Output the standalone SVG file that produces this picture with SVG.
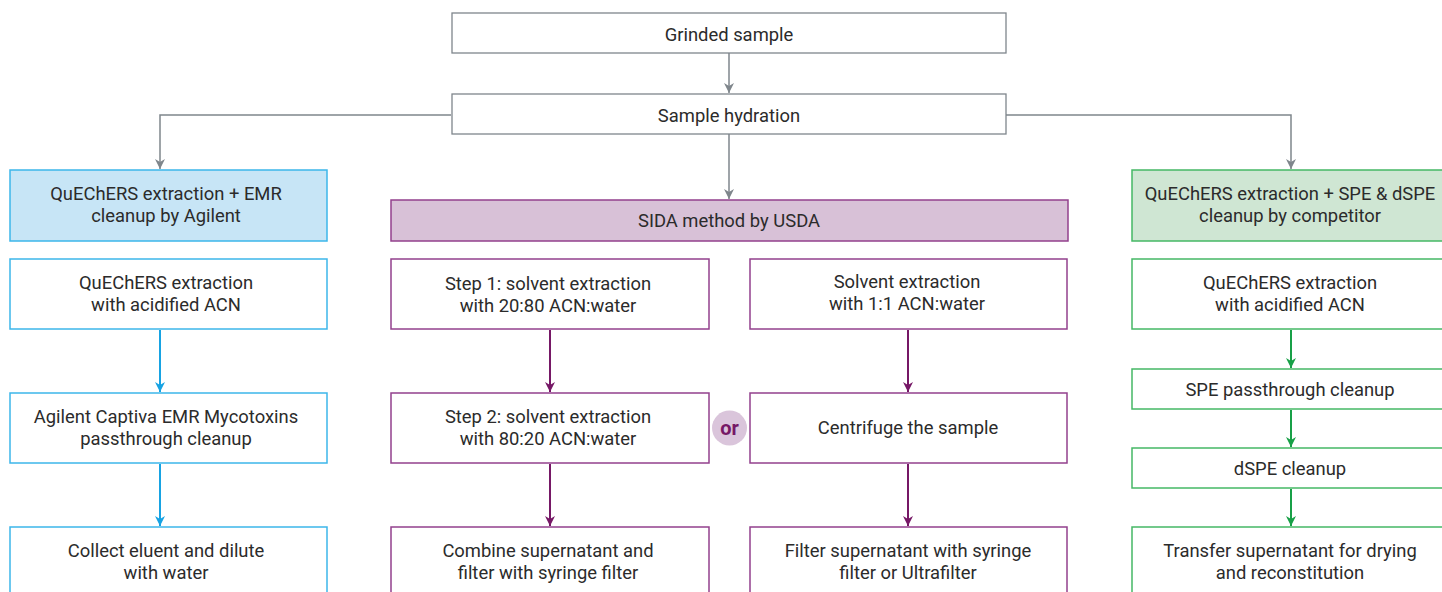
<svg xmlns="http://www.w3.org/2000/svg" width="1442" height="592" viewBox="0 0 1442 592">
<defs>
<style>
text{font-family:Roboto,"Liberation Sans",sans-serif;font-size:18.4px;fill:#2b2b2b;text-anchor:middle}
.g{fill:#fff;stroke:#7f868c;stroke-width:1.3}
.b{fill:#fff;stroke:#3cb6ea;stroke-width:1.5}
.bh{fill:#c7e5f6;stroke:#3cb6ea;stroke-width:1.5}
.p{fill:#fff;stroke:#93408d;stroke-width:1.5}
.ph{fill:#d8c1d7;stroke:#93408d;stroke-width:1.5}
.n{fill:#fff;stroke:#45b865;stroke-width:1.5}
.nh{fill:#cfe6d3;stroke:#45b865;stroke-width:1.5}
.cg{fill:none;stroke:#7f868c;stroke-width:1.5}
.cb{fill:none;stroke:#17a3e3;stroke-width:2}
.cp{fill:none;stroke:#761866;stroke-width:2}
.cn{fill:none;stroke:#18a047;stroke-width:2}
</style>
<marker id="ag" viewBox="0 0 10 10" refX="10" refY="5" markerWidth="10" markerHeight="10" markerUnits="userSpaceOnUse" orient="auto"><path d="M0,0 L10,5 L0,10 L3,5 Z" fill="#7f868c"/></marker>
<marker id="ab" viewBox="0 0 10 10" refX="10" refY="5" markerWidth="10" markerHeight="10" markerUnits="userSpaceOnUse" orient="auto"><path d="M0,0 L10,5 L0,10 L3,5 Z" fill="#17a3e3"/></marker>
<marker id="ap" viewBox="0 0 10 10" refX="10" refY="5" markerWidth="10" markerHeight="10" markerUnits="userSpaceOnUse" orient="auto"><path d="M0,0 L10,5 L0,10 L3,5 Z" fill="#761866"/></marker>
<marker id="an" viewBox="0 0 10 10" refX="10" refY="5" markerWidth="10" markerHeight="10" markerUnits="userSpaceOnUse" orient="auto"><path d="M0,0 L10,5 L0,10 L3,5 Z" fill="#18a047"/></marker>
</defs>
<rect width="1442" height="592" fill="#fff"/>
<g id="connectors">
<path class="cg" d="M729,53 V93" marker-end="url(#ag)"/>
<path class="cg" d="M451,115 H160 V169" marker-end="url(#ag)"/>
<path class="cg" d="M1006,115 H1291 V169" marker-end="url(#ag)"/>
<path class="cg" d="M729,134 V199" marker-end="url(#ag)"/>
<path class="cb" d="M160,330 V392" marker-end="url(#ab)"/>
<path class="cb" d="M160,464 V526" marker-end="url(#ab)"/>
<path class="cp" d="M550,330 V392" marker-end="url(#ap)"/>
<path class="cp" d="M550,464 V526" marker-end="url(#ap)"/>
<path class="cp" d="M908,330 V392" marker-end="url(#ap)"/>
<path class="cp" d="M908,464 V526" marker-end="url(#ap)"/>
<path class="cn" d="M1291,330 V368" marker-end="url(#an)"/>
<path class="cn" d="M1291,410 V447" marker-end="url(#an)"/>
<path class="cn" d="M1291,489 V526" marker-end="url(#an)"/>
</g>
<g id="grinded"><rect class="g" x="452" y="13" width="554" height="40"/><text x="729" y="40.5">Grinded sample</text></g>
<g id="hydration"><rect class="g" x="452" y="94" width="554" height="40"/><text x="729" y="121.5">Sample hydration</text></g>

<g id="agilent-head"><rect class="bh" x="10" y="170" width="317" height="71"/><text x="166" y="200">QuEChERS extraction + EMR</text><text x="166" y="222">cleanup by Agilent</text></g>
<g id="agilent-1"><rect class="b" x="10" y="259" width="317" height="70"/><text x="166" y="289">QuEChERS extraction</text><text x="166" y="311">with acidified ACN</text></g>
<g id="agilent-2"><rect class="b" x="10" y="393" width="317" height="70"/><text x="166" y="423">Agilent Captiva EMR Mycotoxins</text><text x="166" y="445">passthrough cleanup</text></g>
<g id="agilent-3"><rect class="b" x="10" y="527" width="317" height="80"/><text x="166" y="557">Collect eluent and dilute</text><text x="166" y="579">with water</text></g>

<g id="sida-head"><rect class="ph" x="391" y="200" width="677" height="41"/><text x="729" y="227">SIDA method by USDA</text></g>
<g id="sida-l1"><rect class="p" x="391" y="259" width="318" height="70"/><text x="548" y="290">Step 1: solvent extraction</text><text x="548" y="312">with 20:80 ACN:water</text></g>
<g id="sida-l2"><rect class="p" x="391" y="393" width="318" height="70"/><text x="548" y="423">Step 2: solvent extraction</text><text x="548" y="445">with 80:20 ACN:water</text></g>
<g id="sida-l3"><rect class="p" x="391" y="527" width="318" height="80"/><text x="548" y="557">Combine supernatant and</text><text x="548" y="579">filter with syringe filter</text></g>
<g id="sida-r1"><rect class="p" x="750" y="259" width="317" height="70"/><text x="907" y="288">Solvent extraction</text><text x="907" y="310">with 1:1 ACN:water</text></g>
<g id="sida-r2"><rect class="p" x="750" y="393" width="317" height="70"/><text x="908" y="434">Centrifuge the sample</text></g>
<g id="sida-r3"><rect class="p" x="750" y="527" width="317" height="80"/><text x="908" y="557">Filter supernatant with syringe</text><text x="908" y="579">filter or Ultrafilter</text></g>
<g id="or"><circle cx="729.5" cy="428" r="17.5" fill="#dac5db"/><text x="729.5" y="435" style="font-weight:bold;fill:#761866;font-size:20px">or</text></g>

<g id="comp-head"><rect class="nh" x="1132" y="170" width="320" height="71"/><text x="1290" y="200">QuEChERS extraction + SPE &amp; dSPE</text><text x="1290" y="222">cleanup by competitor</text></g>
<g id="comp-1"><rect class="n" x="1132" y="259" width="320" height="70"/><text x="1290" y="289">QuEChERS extraction</text><text x="1290" y="311">with acidified ACN</text></g>
<g id="comp-2"><rect class="n" x="1132" y="369" width="320" height="40"/><text x="1290" y="396">SPE passthrough cleanup</text></g>
<g id="comp-3"><rect class="n" x="1132" y="448" width="320" height="40"/><text x="1290" y="475">dSPE cleanup</text></g>
<g id="comp-4"><rect class="n" x="1132" y="527" width="320" height="80"/><text x="1290" y="557">Transfer supernatant for drying</text><text x="1290" y="579">and reconstitution</text></g>
</svg>
